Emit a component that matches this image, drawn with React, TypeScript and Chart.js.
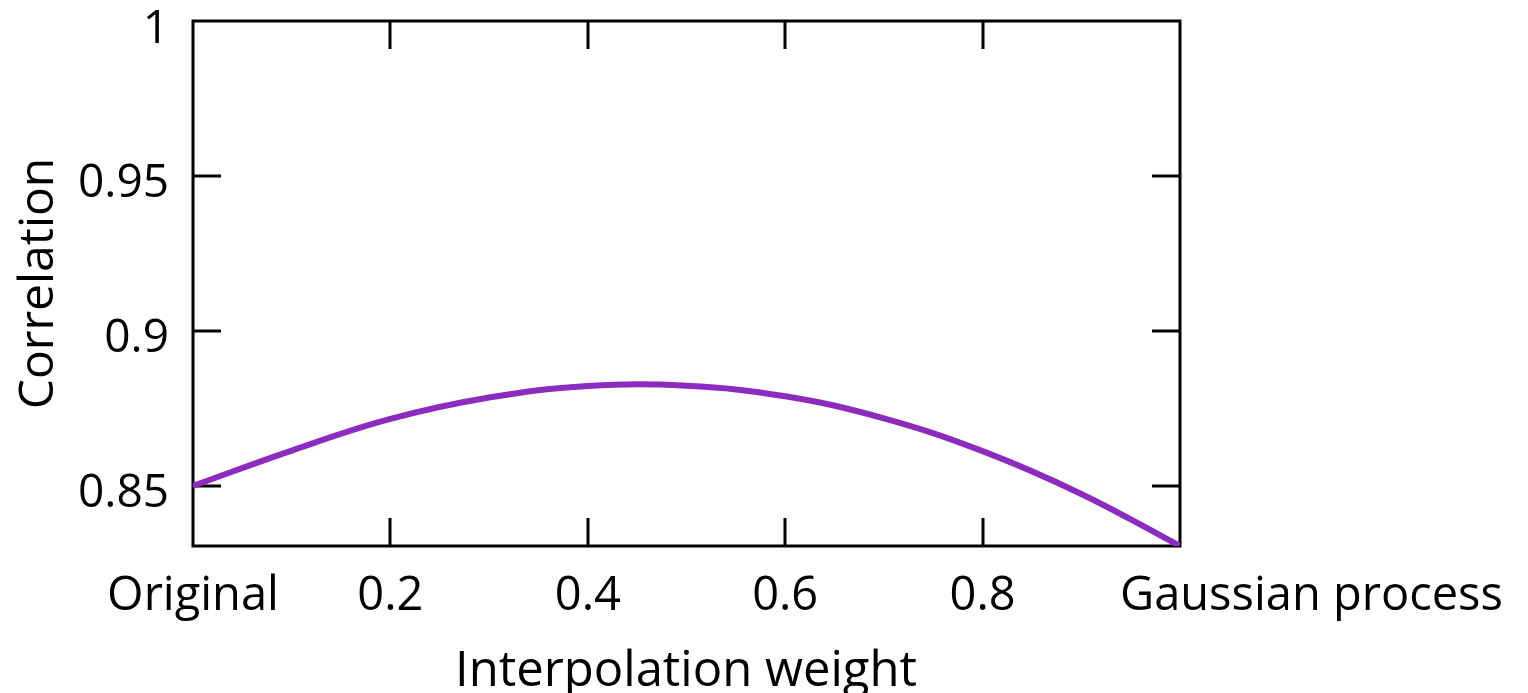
import React, { useEffect, useRef } from "react";
import { Chart, registerables } from "chart.js";

Chart.register(...registerables);

const weights = [0, 0.1, 0.2, 0.3, 0.4, 0.5, 0.6, 0.7, 0.8, 0.9, 1.0];
const correlation = [0.85, 0.8614, 0.8716, 0.8785, 0.8822, 0.8823, 0.8789, 0.8718, 0.8612, 0.8474, 0.8306];

const xTickValues = [0, 0.2, 0.4, 0.6, 0.8, 1];
const xTickLabels = ["Original", "0.2", "0.4", "0.6", "0.8", "Gaussian process"];
const yTickValues = [0.85, 0.9, 0.95, 1];
const yTickLabels = ["0.85", "0.9", "0.95", "1"];

const xTitle = "Interpolation weight";
const yTitle = "Correlation";

const X_MIN = 0;
const X_MAX = 1;
const Y_MIN = 0.8306;
const Y_MAX = 1;

const FONT = "'Open Sans', 'DejaVu Sans', sans-serif";

const framePlugin = {
  id: "frameTicks",
  beforeDatasetsDraw(chart: any) {
    const { ctx, chartArea } = chart;
    const xs = chart.scales.x;
    const ys = chart.scales.y;
    const { left, right, top, bottom } = chartArea;
    const tickLen = 28;
    ctx.save();
    ctx.strokeStyle = "#000";
    ctx.lineWidth = 3;
    ctx.lineCap = "butt";
    ctx.beginPath();
    ctx.rect(left, top, right - left, bottom - top);
    ctx.stroke();
    ctx.beginPath();
    xTickValues.forEach((v) => {
      if (v <= X_MIN || v >= X_MAX) return;
      const px = Math.round(xs.getPixelForValue(v));
      ctx.moveTo(px, bottom);
      ctx.lineTo(px, bottom - tickLen);
      ctx.moveTo(px, top);
      ctx.lineTo(px, top + tickLen);
    });
    yTickValues.forEach((v) => {
      if (v <= Y_MIN || v >= Y_MAX) return;
      const py = Math.round(ys.getPixelForValue(v));
      ctx.moveTo(left, py);
      ctx.lineTo(left + tickLen, py);
      ctx.moveTo(right, py);
      ctx.lineTo(right - tickLen, py);
    });
    ctx.stroke();
    ctx.restore();
  },
  afterDraw(chart: any) {
    const { ctx, chartArea } = chart;
    const xs = chart.scales.x;
    const ys = chart.scales.y;
    const { left, top, bottom } = chartArea;
    ctx.save();
    ctx.fillStyle = "#000";
    ctx.font = `46px ${FONT}`;
    ctx.textBaseline = "alphabetic";
    // y tick labels
    ctx.textAlign = "right";
    yTickValues.forEach((v, i) => {
      const py = ys.getPixelForValue(v);
      ctx.fillText(yTickLabels[i], left - 24, py + 21.5);
    });
    // x tick labels
    ctx.font = `47px ${FONT}`;
    xTickValues.forEach((v, i) => {
      const px = xs.getPixelForValue(v);
      if (i === xTickValues.length - 1) {
        ctx.textAlign = "left";
        ctx.fillText(xTickLabels[i], px - 60, bottom + 64);
      } else {
        ctx.textAlign = "center";
        ctx.fillText(xTickLabels[i], px, bottom + 64);
      }
    });
    // titles
    ctx.font = `49px ${FONT}`;
    ctx.textAlign = "center";
    ctx.fillText(xTitle, 686, bottom + 140);
    ctx.save();
    ctx.translate(53, (top + bottom) / 2);
    ctx.rotate(-Math.PI / 2);
    ctx.textAlign = "center";
    ctx.font = `48px ${FONT}`;
    ctx.fillText(yTitle, 0, 0);
    ctx.restore();
    ctx.restore();
  },
};

export default function App() {
  const canvasRef = useRef<HTMLCanvasElement | null>(null);

  useEffect(() => {
    const canvas = canvasRef.current;
    if (!canvas) return;
    const chart = new Chart(canvas, {
      type: "line",
      data: {
        datasets: [
          {
            data: weights.map((w, i) => ({ x: w, y: correlation[i] })),
            borderColor: "#8b2bbf",
            borderWidth: 6,
            pointRadius: 0,
            tension: 0.4,
            fill: false,
          },
        ],
      },
      options: {
        animation: false,
        responsive: false,
        maintainAspectRatio: false,
        layout: { padding: { left: 193, top: 21, right: 348, bottom: 147 } },
        plugins: { legend: { display: false }, tooltip: { enabled: false } },
        scales: {
          x: { type: "linear", min: X_MIN, max: X_MAX, display: false },
          y: { type: "linear", min: Y_MIN, max: Y_MAX, display: false },
        },
      },
      plugins: [framePlugin],
    });
    return () => chart.destroy();
  }, []);

  return (
    <div style={{ position: "absolute", left: 0, top: 0, width: 1528, height: 693, background: "#fff" }}>
      <canvas ref={canvasRef} width={1528} height={693} style={{ width: 1528, height: 693, display: "block" }} />
    </div>
  );
}
